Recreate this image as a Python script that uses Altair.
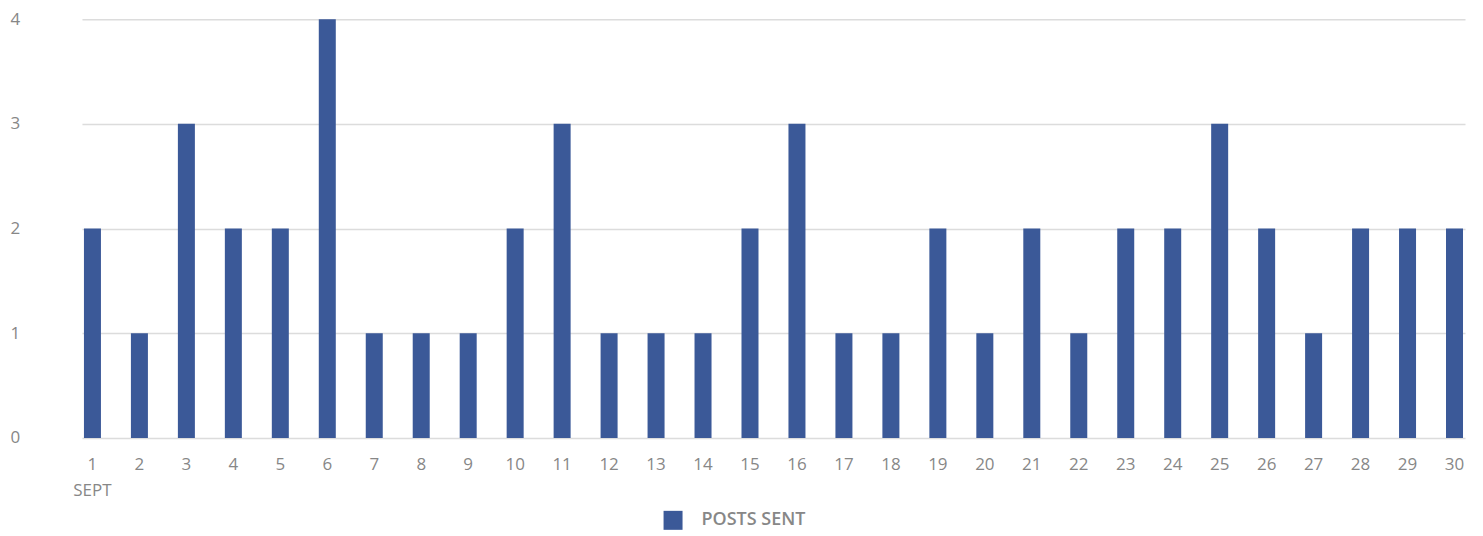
import altair as alt
import pandas as pd

days = list(range(1, 31))
posts = [2, 1, 3, 2, 2, 4, 1, 1, 1, 2, 3, 1, 1, 1, 2, 3, 1, 1, 2, 1,
         2, 1, 2, 2, 3, 2, 1, 2, 2, 2]
series = ["POSTS SENT"] * 30

df = pd.DataFrame({"day": days, "posts": posts, "series": series})

FONT = "Open Sans"
GRAY = "#878787"

chart = alt.Chart(df).mark_bar(color="#3b5998").encode(
    x=alt.X(
        "day:O",
        sort=days,
        scale=alt.Scale(paddingInner=0.638, paddingOuter=0.0426),
        axis=alt.Axis(
            title=None, labelAngle=0, ticks=False, domain=False, grid=False,
            labelPadding=19, labelFontSize=17, labelColor=GRAY, labelFont=FONT,
            labelExpr="datum.value == 1 ? ['1', 'SEPT'] : datum.label",
            labelLineHeight=26,
        ),
    ),
    y=alt.Y(
        "posts:Q",
        scale=alt.Scale(domain=[0, 4]),
        axis=alt.Axis(
            title=None, values=[0, 1, 2, 3, 4], ticks=False, domain=False,
            grid=True, gridColor="#dcdcdc", gridWidth=1.5,
            labelAlign="left", labelBaseline="middle", labelPadding=72,
            labelFlush=False,
            labelFontSize=17, labelColor=GRAY, labelFont=FONT,
        ),
    ),
    fill=alt.Fill(
        "series:N",
        scale=alt.Scale(range=["#3b5998"]),
        legend=alt.Legend(
            title=None, orient="none", legendX=582, legendY=492,
            symbolType="square", symbolSize=361, symbolStrokeWidth=0,
            labelFontSize=18, labelFontWeight=600, labelColor=GRAY,
            labelFont=FONT, labelOffset=19, padding=0,
        ),
    ),
).properties(
    width=1384,
    height=419,
    autosize=alt.AutoSizeParams(type="none"),
    padding={"left": 74, "top": 11, "right": 10, "bottom": 100},
).configure_view(stroke=None)

chart.save("out.html", embed_options={"renderer": "svg", "actions": False})
